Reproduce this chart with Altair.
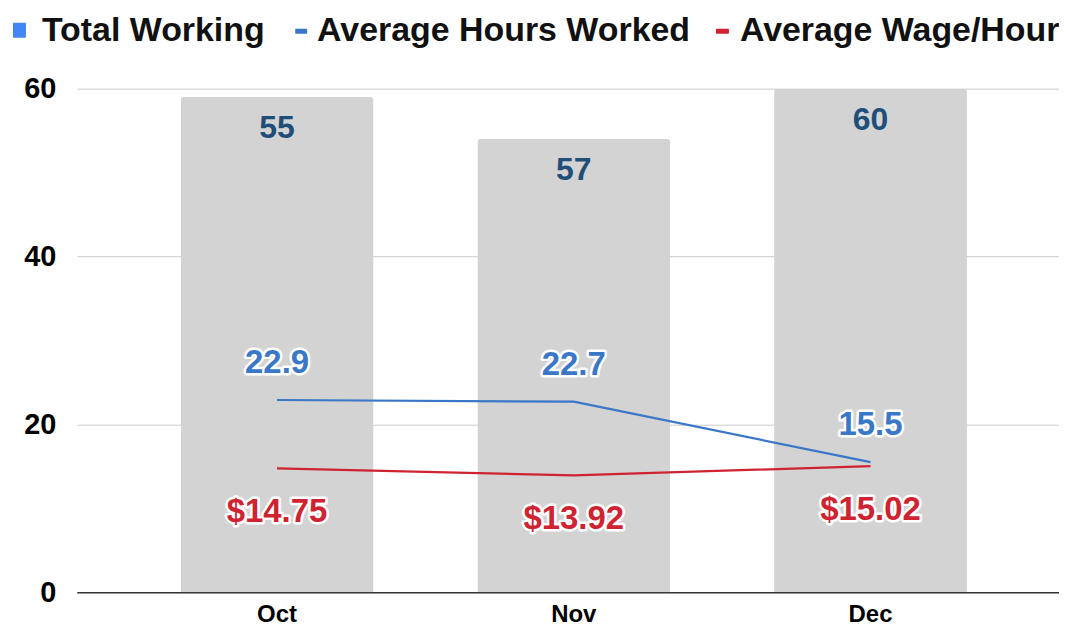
import altair as alt
import pandas as pd

months = ["Oct", "Nov", "Dec"]
total_working = [59, 54, 60]
total_labels = ["55", "57", "60"]
avg_hours = [22.9, 22.7, 15.5]
avg_wage = [14.75, 13.92, 15.02]
wage_labels = ["$14.75", "$13.92", "$15.02"]

df = pd.DataFrame({
    "month": months,
    "total": total_working,
    "total_label": total_labels,
    "hours": avg_hours,
    "hours_label": [f"{v:.1f}" for v in avg_hours],
    "wage": avg_wage,
    "wage_label": wage_labels,
})

FONT = "Liberation Sans"
BAR = "#D3D3D3"
DARKBLUE = "#1F4E79"
BLUE = "#3A77C7"
RED = "#CF2331"
LEGBLUE = "#4285F4"

xscale = alt.Scale(paddingInner=0.35, paddingOuter=0.33, align=0.53)
xenc = alt.X("month:N", sort=months, title=None, scale=xscale,
             axis=alt.Axis(labelAngle=0, labelFont=FONT, labelFontSize=24,
                           labelFontWeight="bold", labelColor="#000",
                           labelPadding=10, ticks=False, domain=True,
                           domainColor="#333", domainWidth=1.5, grid=False))
xs = alt.X("month:N", sort=months, scale=xscale)
yscale = alt.Scale(domain=[0, 60], nice=False)
yenc = alt.Y("total:Q", scale=yscale, title=None,
             axis=alt.Axis(values=[0, 20, 40, 60], labelFont=FONT, labelFontSize=29,
                           labelFontWeight="bold", labelColor="#000", labelPadding=21,
                           ticks=False, domain=False, gridColor="#CCCCCC", gridWidth=1))

base = alt.Chart(df)

bars = base.mark_bar(color=BAR, cornerRadiusTopLeft=3, cornerRadiusTopRight=3).encode(x=xenc, y=yenc)

bar_text = base.mark_text(font=FONT, fontSize=32, fontWeight="bold", color=DARKBLUE,
                          baseline="middle", dy=31).encode(
    x=xs, y=alt.Y("total:Q", scale=yscale), text="total_label:N")

hours_line = base.mark_line(color=BLUE, strokeWidth=2.2).encode(
    x=xs, y=alt.Y("hours:Q", scale=yscale))
wage_line = base.mark_line(color=RED, strokeWidth=2.2).encode(
    x=xs, y=alt.Y("wage:Q", scale=yscale))

def halo_text(field, label, color, dy):
    enc = dict(x=xs, y=alt.Y(f"{field}:Q", scale=yscale), text=f"{label}:N")
    halo = base.mark_text(font=FONT, fontSize=33, fontWeight="bold", color="white",
                          stroke="white", strokeWidth=5, strokeJoin="round",
                          baseline="middle", dy=dy).encode(**enc)
    txt = base.mark_text(font=FONT, fontSize=33, fontWeight="bold", color=color,
                         baseline="middle", dy=dy).encode(**enc)
    return halo + txt

hours_text = halo_text("hours", "hours_label", BLUE, -37)
wage_text = halo_text("wage", "wage_label", RED, 44)

one = pd.DataFrame({"a": [0]})

def leg_rect(x1, x2, y1, y2, color):
    return alt.Chart(one).mark_rect(color=color, cornerRadius=1).encode(
        x=alt.value(x1), x2=alt.value(x2), y=alt.value(y1), y2=alt.value(y2))

def leg_text(x, txt):
    return alt.Chart(one).mark_text(font=FONT, fontSize=34, fontWeight="bold", color="#111",
                                    align="left", baseline="alphabetic").encode(
        x=alt.value(x), y=alt.value(-48), text=alt.value(txt))

legend = (leg_rect(-64, -51, -66, -51, LEGBLUE) + leg_text(-35, "Total Working")
          + leg_rect(219, 231, -60, -55, BLUE) + leg_text(241, "Average Hours Worked")
          + leg_rect(641, 654, -60, -55, RED) + leg_text(665, "Average Wage/Hour"))

chart = alt.layer(bars, bar_text, hours_line, wage_line, hours_text, wage_text, legend).properties(
    width=985, height=505,
    autosize=alt.AutoSizeParams(type="none"),
    padding={"left": 69, "top": 80, "right": 0, "bottom": 34},
).configure_view(stroke=None)

chart.save("out.html", embed_options={"renderer": "svg", "actions": False})
